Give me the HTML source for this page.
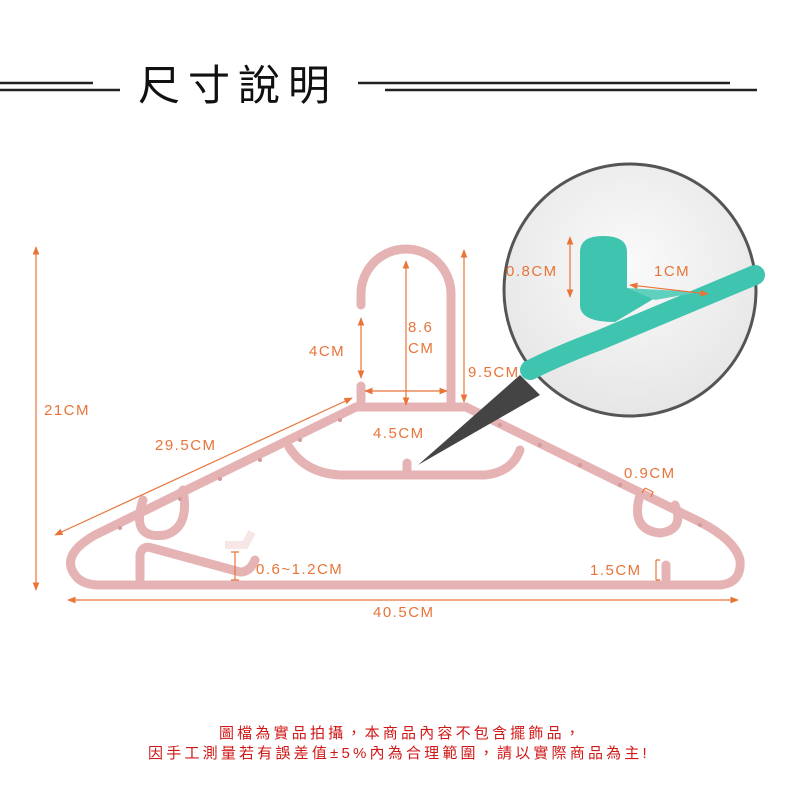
<!DOCTYPE html>
<html><head><meta charset="utf-8"><style>
html,body{margin:0;padding:0;background:#fff;width:800px;height:800px;overflow:hidden}
svg{display:block}
.o{font-family:"Liberation Sans","Noto Sans CJK TC",sans-serif;font-size:15px;fill:#e8743a;letter-spacing:1.5px}
.f{font-family:"Liberation Sans","Noto Sans CJK TC",sans-serif;font-size:15px;fill:#d01818;letter-spacing:3.2px}
</style></head><body>
<svg width="800" height="800" viewBox="0 0 800 800" xmlns="http://www.w3.org/2000/svg">
<defs>
<marker id="a" viewBox="0 0 10 10" refX="9" refY="5" markerWidth="7" markerHeight="7" orient="auto-start-reverse"><path d="M0,1 L10,5 L0,9 z" fill="#e8743a"/></marker>
<radialGradient id="g" cx="0.5" cy="0.4" r="0.6"><stop offset="0" stop-color="#fafafa"/><stop offset="1" stop-color="#e6e6e6"/></radialGradient>
</defs>
<!-- title -->
<g stroke="#222" stroke-width="2.5">
<line x1="0" y1="83" x2="93" y2="83"/><line x1="0" y1="90" x2="120" y2="90"/>
<line x1="358" y1="83" x2="730" y2="83"/><line x1="385" y1="90" x2="757" y2="90"/>
</g>
<text x="138" y="100" font-family="'Noto Sans CJK TC',sans-serif" font-size="42" fill="#111" letter-spacing="8">尺寸說明</text>

<!-- hanger -->
<g fill="none" stroke="#e6b3b5" stroke-width="9" stroke-linecap="round" stroke-linejoin="round">
<path d="M361,305 L361,294 A45,45 0 0 1 451,294 L451,407"/>
<path d="M361,386 L361,407"/>
<path d="M356,407 L466,407"/>
<path d="M356,407 L95,535 Q60,555 75,575 Q82,585 100,585 L720,585 Q742,583 740,560 Q735,540 700,522 L466,407"/>
<path d="M289,447 Q305,473 340,475 L485,475 Q512,472 520,450"/>
<path d="M407,472 L407,463"/>
<path d="M143,500 Q130,540 165,535 Q190,528 183,490"/>
<path d="M640,495 Q630,530 660,533 Q685,530 675,505"/>
<path d="M140,580 L140,555 Q142,545 152,548 L240,572 Q250,572 255,560"/>
<path d="M666,580 L666,565"/>
</g>
<path d="M225,545 L245,545 L252,532" stroke="#f6e6e6" stroke-width="8" fill="none"/>
<g fill="#d49a9c">
<circle cx="340" cy="420" r="2"/><circle cx="300" cy="440" r="2"/><circle cx="260" cy="460" r="2"/><circle cx="220" cy="479" r="2"/><circle cx="180" cy="499" r="2"/><circle cx="120" cy="528" r="2"/>
<circle cx="500" cy="425" r="2"/><circle cx="540" cy="445" r="2"/><circle cx="580" cy="465" r="2"/><circle cx="620" cy="485" r="2"/><circle cx="700" cy="525" r="2"/>
</g>

<!-- zoom circle -->
<polygon points="418,465 520,375 540,395" fill="#444"/>
<circle cx="630" cy="290" r="126" fill="url(#g)" stroke="#555" stroke-width="3"/>
<path d="M530,370 Q560,355 600,340 L755,275" stroke="#3fc4b0" stroke-width="20" fill="none" stroke-linecap="round"/>
<path d="M580,252 Q580,236 603,236 Q627,236 627,252 L627,288 L655,298 L615,322 Q580,322 580,305 z" fill="#3fc4b0"/>
<path d="M627,288 L700,292 L655,300 z" fill="#5fd0be"/>

<!-- dims -->
<g stroke="#e8743a" stroke-width="1.2" fill="none">
<line x1="36" y1="247" x2="36" y2="590" marker-start="url(#a)" marker-end="url(#a)"/>
<line x1="68" y1="600" x2="738" y2="600" marker-start="url(#a)" marker-end="url(#a)"/>
<line x1="352" y1="398" x2="55" y2="535" marker-start="url(#a)" marker-end="url(#a)"/>
<line x1="361" y1="318" x2="361" y2="378" marker-start="url(#a)" marker-end="url(#a)"/>
<line x1="406" y1="261" x2="406" y2="405" marker-start="url(#a)" marker-end="url(#a)"/>
<line x1="365" y1="391" x2="447" y2="391" marker-start="url(#a)" marker-end="url(#a)"/>
<line x1="464" y1="250" x2="464" y2="402" marker-start="url(#a)" marker-end="url(#a)"/>
<line x1="570" y1="237" x2="570" y2="297" marker-start="url(#a)" marker-end="url(#a)"/>
<line x1="630" y1="285" x2="708" y2="294" marker-start="url(#a)" marker-end="url(#a)"/>
<path d="M235,552 L235,580 M231,552 L239,552 M231,580 L239,580"/>
<path d="M656,560 L656,580 M656,560 L660,560 M656,580 L660,580"/>
<path d="M645,488 L653,492 L651,497 M642,493 L645,488"/>
</g>
<text class="o" x="44" y="415">21CM</text>
<text class="o" x="155" y="450">29.5CM</text>
<text class="o" x="309" y="356">4CM</text>
<text class="o" x="408" y="332">8.6</text>
<text class="o" x="408" y="353">CM</text>
<text class="o" x="468" y="377">9.5CM</text>
<text class="o" x="373" y="438">4.5CM</text>
<text class="o" x="624" y="478">0.9CM</text>
<text class="o" x="256" y="574">0.6~1.2CM</text>
<text class="o" x="590" y="575">1.5CM</text>
<text class="o" x="373" y="617">40.5CM</text>
<text class="o" x="506" y="276">0.8CM</text>
<text class="o" x="654" y="276">1CM</text>

<text class="f" x="401" y="738" text-anchor="middle">圖檔為實品拍攝，本商品內容不包含擺飾品，</text>
<text class="f" x="399" y="758" text-anchor="middle">因手工測量若有誤差值±5%內為合理範圍，請以實際商品為主!</text>
</svg>
</body></html>
